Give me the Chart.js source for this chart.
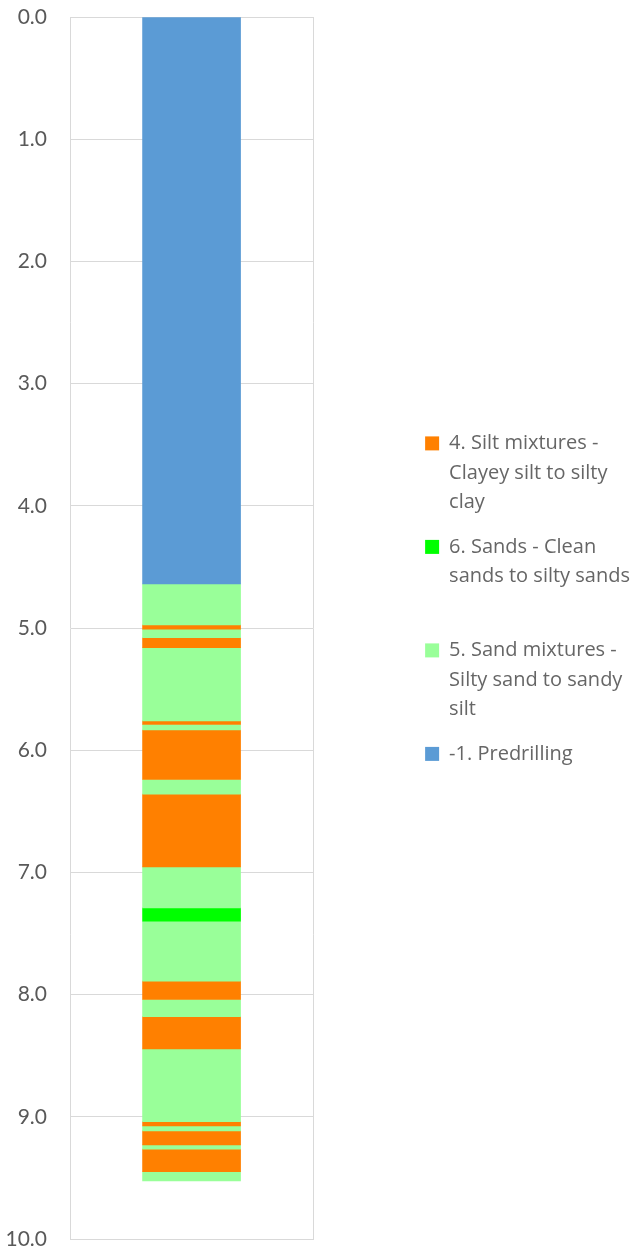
<!DOCTYPE html>
<html lang="en">

<head>
  <meta charset="UTF-8">
  <title>CPT soil profile</title>
  <style>
    html, body { margin: 0; padding: 0; background: #fff; }
    #wrap { width: 640px; height: 1250px; }
  </style>
</head>

<body>
  <div id="wrap">
    <canvas id="myChart"></canvas>
  </div>

  <script src="https://cdn.jsdelivr.net/npm/chart.js"></script>
  <script>
    // soil behaviour classes (legend order)
    const soilClasses = ['silt', 'sand', 'sandMix', 'predrill'];
    const classNames = [
      ['4. Silt mixtures -', 'Clayey silt to silty', 'clay'],
      ['6. Sands - Clean', 'sands to silty sands', ''],
      ['5. Sand mixtures -', 'Silty sand to sandy', 'silt'],
      ['-1. Predrilling']
    ];
    const classColors = ['#FF8000', '#00FF00', '#99FF99', '#5B9BD5'];

    // layers from top to bottom: depth of the bottom of each layer (m) and its class
    const layerBottoms = [4.64, 4.975, 5.01, 5.08, 5.16, 5.76, 5.79, 5.835, 6.24, 6.36, 6.955, 7.29,
      7.40, 7.89, 8.04, 8.18, 8.445, 9.04, 9.075, 9.115, 9.23, 9.265, 9.45, 9.525];
    const layerClasses = ['predrill', 'sandMix', 'silt', 'sandMix', 'silt', 'sandMix', 'silt', 'sandMix',
      'silt', 'sandMix', 'silt', 'sandMix', 'sand', 'sandMix', 'silt', 'sandMix', 'silt', 'sandMix',
      'silt', 'sandMix', 'silt', 'sandMix', 'silt', 'sandMix'];

    const depthTicks = [0, 1, 2, 3, 4, 5, 6, 7, 8, 9, 10];

    const datasets = layerBottoms.map(function (bottom, i) {
      const top = i === 0 ? 0 : layerBottoms[i - 1];
      const c = soilClasses.indexOf(layerClasses[i]);
      return {
        label: classNames[c].join(' '),
        data: [[top, bottom]],
        backgroundColor: classColors[c],
        borderWidth: 0,
        grouped: false,
        barThickness: 98
      };
    });

    const grey = '#D9D9D9';
    const textGrey = '#595959';

    const ctx = document.getElementById('myChart');
    new Chart(ctx, {
      type: 'bar',
      data: {
        labels: [''],
        datasets: datasets
      },
      options: {
        responsive: true,
        maintainAspectRatio: false,
        animation: false,
        layout: { padding: { top: 17, bottom: 11, left: 0, right: 0 } },
        scales: {
          x: { display: false },
          y: {
            min: 0,
            max: 10,
            reverse: true,
            afterBuildTicks: function (s) {
              s.ticks = depthTicks.map(function (v) { return { value: v }; });
            },
            afterFit: function (s) {
              s.width = 70;
              s.paddingTop = 0;
              s.paddingBottom = 0;
            },
            grid: { color: grey, drawTicks: false },
            border: { color: grey },
            ticks: {
              padding: 23,
              color: textGrey,
              font: { family: 'Lato', size: 21 },
              callback: function (v) { return Number(v).toFixed(1); }
            }
          },
          // empty axis: keeps the gap between the column and the legend and draws the right frame line
          gap: {
            type: 'linear',
            position: 'right',
            display: true,
            grid: { display: false },
            ticks: { display: false },
            border: { color: grey },
            afterFit: function (s) { s.width = 97; }
          }
        },
        plugins: {
          tooltip: { enabled: false },
          legend: {
            position: 'right',
            align: 'start',
            maxWidth: 300,
            title: { display: true, text: '', padding: { top: 0, bottom: 387 } },
            labels: {
              boxWidth: 14,
              boxHeight: 14,
              padding: 15,
              color: textGrey,
              font: { family: 'Open Sans', size: 20, lineHeight: '29.5px' },
              generateLabels: function () {
                return soilClasses.map(function (key, i) {
                  return {
                    text: classNames[i],
                    fillStyle: classColors[i],
                    strokeStyle: classColors[i],
                    lineWidth: 0,
                    hidden: false,
                    datasetIndex: layerClasses.indexOf(key)
                  };
                });
              }
            }
          }
        }
      }
    });
  </script>
</body>

</html>
